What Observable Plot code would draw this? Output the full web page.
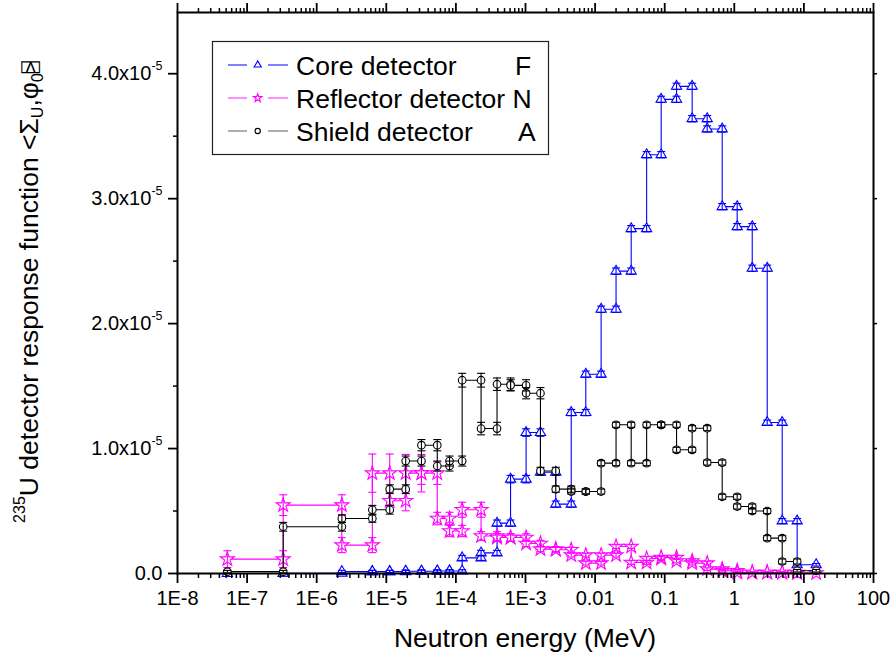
<!DOCTYPE html>
<html>
<head>
<meta charset="utf-8">
<script src="https://cdn.jsdelivr.net/npm/d3@7"></script>
<script src="https://cdn.jsdelivr.net/npm/@observablehq/plot@0.6"></script>
<style>
  body { margin: 0; background: #fff; }
  #chart { width: 896px; height: 663px; }
</style>
</head>
<body>
<div id="chart"></div>
<script>
// Energy group boundaries (MeV) shared by all three detectors
const edges = [5.2e-8, 3.3e-7, 2.3e-6, 6.3e-6, 1.12e-5, 1.9e-5, 3.2e-5, 5.4e-5, 8.1e-5,
  1.23e-4, 2.3e-4, 3.9e-4, 6.1e-4, 1.02e-3, 1.64e-3, 2.72e-3, 4.54e-3, 7.35e-3, 1.22e-2,
  2.0e-2, 3.3e-2, 5.5e-2, 8.9e-2, 0.148, 0.248, 0.408, 0.67, 1.10, 1.81, 2.97, 4.88, 8.0, 15.0];

// Group-wise response functions, in units of 1e-5
const core = [0.0, 0.002, 0.015, 0.015, 0.015, 0.018, 0.018, 0.02, 0.02, 0.125, 0.165, 0.403,
  0.755, 1.128, 0.81, 0.555, 1.288, 1.595, 2.115, 2.42, 2.76, 3.352, 3.795, 3.899, 3.64, 3.558,
  2.936, 2.776, 2.443, 1.208, 0.42, 0.07];
const coreErr = [0.005, 0.005, 0.01, 0.01, 0.01, 0.01, 0.01, 0.01, 0.01, 0.02, 0.02, 0.025,
  0.03, 0.03, 0.025, 0.025, 0.025, 0.025, 0.025, 0.025, 0.025, 0.025, 0.025, 0.025, 0.025, 0.025,
  0.025, 0.025, 0.025, 0.02, 0.02, 0.01];

const reflector = [0.115, 0.547, 0.227, 0.803, 0.582, 0.803, 0.803, 0.44, 0.34, 0.51, 0.30, 0.288,
  0.288, 0.24, 0.195, 0.19, 0.147, 0.083, 0.147, 0.216, 0.088, 0.12, 0.128, 0.10, 0.083, 0.035,
  0.022, 0.008, 0.008, 0.008, 0.008, 0.003];
const reflectorErr = [0.067, 0.083, 0.06, 0.153, 0.08, 0.15, 0.09, 0.05, 0.045, 0.06, 0.035, 0.03,
  0.03, 0.025, 0.02, 0.02, 0.015, 0.015, 0.015, 0.015, 0.015, 0.015, 0.015, 0.015, 0.015, 0.01,
  0.01, 0.005, 0.005, 0.005, 0.005, 0.003];

const shield = [0.015, 0.374, 0.44, 0.51, 0.675, 0.90, 1.027, 0.86, 0.90, 1.547, 1.16, 1.515,
  1.506, 1.443, 0.82, 0.675, 0.656, 0.656, 0.883, 1.19, 0.883, 1.19, 1.19, 0.99, 1.163, 0.888,
  0.614, 0.536, 0.50, 0.283, 0.096, 0.022];
const shieldErr = [0.01, 0.035, 0.03, 0.035, 0.035, 0.04, 0.045, 0.04, 0.04, 0.055, 0.05, 0.05,
  0.045, 0.045, 0.03, 0.025, 0.02, 0.02, 0.02, 0.02, 0.02, 0.02, 0.02, 0.02, 0.02, 0.02,
  0.02, 0.02, 0.02, 0.02, 0.02, 0.01];

const seriesNames = ["Core detector", "Reflector detector N", "Shield detector"];
const seriesTags = ["F", "", "A"];
const seriesColors = ["#0000ff", "#ff00ff", "#000000"];
const legendLineColors = ["#2a2aff", "#ff44ff", "#777777"];
const seriesSymbols = [d3.symbolTriangle, d3.symbolStar, d3.symbolCircle];
const seriesRadius = [3.8, 4.4, 3.8];
const seriesValues = [core, reflector, shield];
const seriesErrors = [coreErr, reflectorErr, shieldErr];

// Axis ticks
const xTickValues = [1e-8, 1e-7, 1e-6, 1e-5, 1e-4, 1e-3, 1e-2, 1e-1, 1, 10, 100];
const xTickLabels = ["1E-8", "1E-7", "1E-6", "1E-5", "1E-4", "1E-3", "0.01", "0.1", "1", "10", "100"];
const yTickValues = [0, 1, 2, 3, 4];
const yTickMain = ["0.0", "1.0x10", "2.0x10", "3.0x10", "4.0x10"];
const yTickExp = ["", "-5", "-5", "-5", "-5"];
const yMinorValues = [0.5, 1.5, 2.5, 3.5];

const xMinorValues = [];
for (let p = -8; p < 2; p++) for (let m = 2; m <= 9; m++) xMinorValues.push(m * Math.pow(10, p));

const xLabelFor = new Map(xTickValues.map((v, i) => [v, xTickLabels[i]]));
const yLabelFor = new Map(yTickValues.map((v, i) => [v, yTickMain[i]]));

// Step outline: each group drawn from its lower to its upper boundary
function stepPoints(values) {
  const pts = [];
  values.forEach((v, i) => { pts.push({x: edges[i], y: v}); pts.push({x: edges[i + 1], y: v}); });
  return pts;
}
// Symbols with error bars at both ends of every group
function markerPoints(values, errs) {
  const pts = [];
  values.forEach((v, i) => {
    pts.push({x: edges[i], y: v, e: errs[i]});
    pts.push({x: edges[i + 1], y: v, e: errs[i]});
  });
  return pts;
}

const capSymbol = { draw(ctx) { ctx.moveTo(-4, 0); ctx.lineTo(4, 0); } };

const seriesMarks = [];
seriesValues.forEach((vals, s) => {
  const color = seriesColors[s];
  const pts = markerPoints(vals, seriesErrors[s]);
  seriesMarks.push(
    Plot.line(stepPoints(vals), {x: "x", y: "y", stroke: color, strokeWidth: 1.1}),
    Plot.dot(pts, {x: "x", y: "y", symbol: seriesSymbols[s], r: seriesRadius[s], fill: "white", stroke: color, strokeWidth: 1.1}),
    Plot.ruleX(pts, {x: "x", y1: d => Math.max(0, d.y - d.e), y2: d => d.y + d.e, stroke: color, strokeWidth: 1.1}),
    Plot.dot(pts, {x: "x", y: d => d.y + d.e, symbol: capSymbol, fill: "none", stroke: color, strokeWidth: 1.1}),
    Plot.dot(pts.filter(d => d.y - d.e > 0), {x: "x", y: d => d.y - d.e, symbol: capSymbol, fill: "none", stroke: color, strokeWidth: 1.1})
  );
});

// Tick marks without labels
const blank = () => "";
const bare = {tickFormat: blank, fill: "none", label: null};

const svg = Plot.plot({
  width: 896,
  height: 663,
  marginLeft: 177,
  marginRight: 23,
  marginTop: 12,
  marginBottom: 90,
  x: {type: "log", domain: [1e-8, 100]},
  y: {domain: [0, 4.49]},
  style: {fontFamily: "'Liberation Sans', Arial, sans-serif", fontSize: "20px", color: "#000", background: "#fff", overflow: "visible"},
  marks: [
    ...seriesMarks,
    Plot.axisX({ticks: xTickValues, tickSize: 10, tickPadding: 7, tickFormat: d => xLabelFor.get(d), label: null, fontSize: 20, strokeWidth: 1.8}),
    Plot.axisX({ticks: xMinorValues, tickSize: 5, strokeWidth: 1.5, ...bare}),
    Plot.axisX({anchor: "top", ticks: xTickValues, tickSize: 10, strokeWidth: 1.8, ...bare}),
    Plot.axisX({anchor: "top", ticks: xMinorValues, tickSize: 5, strokeWidth: 1.5, ...bare}),
    Plot.axisY({ticks: yTickValues, tickSize: 9, tickPadding: 6, tickFormat: d => yLabelFor.get(d), label: null, fontSize: 20, strokeWidth: 1.8}),
    Plot.axisY({ticks: yMinorValues, tickSize: 4, strokeWidth: 1.5, ...bare}),
    Plot.axisY({anchor: "right", ticks: yTickValues, tickSize: 3, strokeWidth: 1.5, ...bare}),
    Plot.frame({stroke: "#000", strokeWidth: 2})
  ]
});

document.getElementById("chart").appendChild(svg);

const root = d3.select(svg);

// Exponent superscripts on the y tick labels
root.selectAll('g[aria-label="y-axis tick label"] text').each(function() {
  const t = d3.select(this);
  const idx = yTickMain.indexOf(t.text());
  if (idx >= 0 && yTickExp[idx]) {
    t.append("tspan").attr("dy", "-10").attr("font-size", "12.5px").text(yTickExp[idx]);
  }
});

const font = "'Liberation Sans', Arial, sans-serif";

// X axis title
root.append("text")
  .attr("x", 525).attr("y", 647)
  .attr("text-anchor", "middle")
  .attr("font-family", font).attr("font-size", "26.5px").attr("fill", "#000")
  .text("Neutron energy (MeV)");

// Y axis title with isotope superscript and bracket subscripts
const yTitle = root.append("text")
  .attr("transform", "translate(38,292) rotate(-90)")
  .attr("text-anchor", "middle")
  .attr("font-family", font).attr("font-size", "26.5px").attr("fill", "#000");
yTitle.append("tspan").attr("font-size", "16px").attr("dy", "-13").text("235");
yTitle.append("tspan").attr("dy", "13").text("U detector response function <Σ");
yTitle.append("tspan").attr("font-size", "16px").attr("dy", "5").text("U");
yTitle.append("tspan").attr("dy", "-5").text(",φ");
yTitle.append("tspan").attr("font-size", "16px").attr("dy", "5").text("0");
yTitle.append("tspan").attr("dy", "-5").attr("font-family", "'DejaVu Sans', 'DejaVu Sans Mono', sans-serif").attr("font-size", "20px").text("⍄");

// Legend box inside the plot area
const lg = root.append("g").attr("text-anchor", "start");
lg.append("rect")
  .attr("x", 212.5).attr("y", 41.5).attr("width", 336).attr("height", 113)
  .attr("fill", "white").attr("stroke", "#222").attr("stroke-width", 1.2);
const rowY = [65, 98, 131];
seriesNames.forEach((name, s) => {
  const y = rowY[s];
  lg.append("line").attr("x1", 228).attr("x2", 247).attr("y1", y).attr("y2", y)
    .attr("stroke", legendLineColors[s]).attr("stroke-width", 1.2);
  lg.append("line").attr("x1", 268).attr("x2", 288).attr("y1", y).attr("y2", y)
    .attr("stroke", legendLineColors[s]).attr("stroke-width", 1.2);
  lg.append("path")
    .attr("d", d3.symbol(seriesSymbols[s], 22)())
    .attr("transform", `translate(257.7,${y})`)
    .attr("fill", "white").attr("stroke", seriesColors[s]).attr("stroke-width", 1.1);
  const t = lg.append("text")
    .attr("x", 296).attr("y", y + 9.5)
    .attr("text-anchor", "start")
    .attr("font-family", font).attr("font-size", "26.5px").attr("fill", "#000")
    .text(name);
  if (seriesTags[s]) t.append("tspan").attr("x", s === 0 ? 515 : 518).text(seriesTags[s]);
});
</script>
</body>
</html>
